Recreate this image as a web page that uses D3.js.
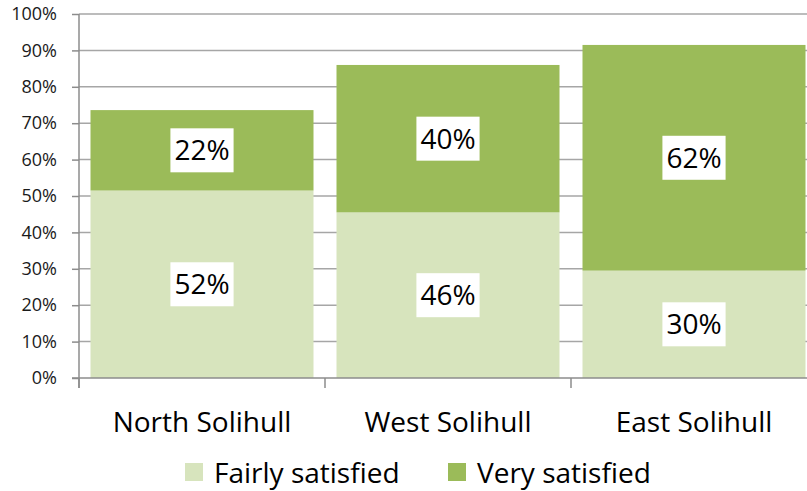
<!DOCTYPE html>
<html>
<head>
<meta charset="utf-8">
<script src="https://cdn.jsdelivr.net/npm/d3@7"></script>
<style>
  body { margin: 0; background: #fff; }
  svg { display: block; font-family: 'Open Sans', 'Liberation Sans', sans-serif; }
</style>
</head>
<body>
<div id="chart"></div>
<script>
const categories = ['North Solihull', 'West Solihull', 'East Solihull'];
const fairly = [51.5, 45.5, 29.5];
const very = [22.1, 40.5, 62.0];
const fairlyLabels = ['52%', '46%', '30%'];
const veryLabels = ['22%', '40%', '62%'];
const yTicks = [0, 10, 20, 30, 40, 50, 60, 70, 80, 90, 100];
const seriesNames = ['Fairly satisfied', 'Very satisfied'];
const colors = ['#d7e4bd', '#9bbb59'];

const width = 807, height = 491;
const plotLeft = 79, plotRight = 817, plotTop = 14, plotBottom = 378;

const svg = d3.select('#chart').append('svg')
  .attr('width', width)
  .attr('height', height);

const x = d3.scaleBand()
  .domain(categories)
  .range([plotLeft, plotRight])
  .paddingInner(0.0935)
  .paddingOuter(0.0935 / 2);

const y = d3.scaleLinear()
  .domain([0, 100])
  .range([plotBottom, plotTop]);

// gridlines
svg.append('g')
  .selectAll('line')
  .data(yTicks.filter(d => d > 0))
  .enter().append('line')
  .attr('x1', plotLeft).attr('x2', plotRight)
  .attr('y1', d => y(d)).attr('y2', d => y(d))
  .attr('stroke', '#a6a6a6')
  .attr('stroke-width', 1.5);

// stacked data
const rows = categories.map((c, i) => ({ cat: c, fairly: fairly[i], very: very[i] }));
const stack = d3.stack().keys(['fairly', 'very'])(rows);

const labelSets = [fairlyLabels, veryLabels];

stack.forEach((layer, k) => {
  svg.append('g')
    .selectAll('rect')
    .data(layer)
    .enter().append('rect')
    .attr('x', d => x(d.data.cat))
    .attr('y', d => y(d[1]))
    .attr('width', x.bandwidth())
    .attr('height', d => y(d[0]) - y(d[1]))
    .attr('fill', colors[k]);
});

// value labels with white boxes
stack.forEach((layer, k) => {
  layer.forEach((d, i) => {
    const cx = x(d.data.cat) + x.bandwidth() / 2;
    const cy = (y(d[0]) + y(d[1])) / 2;
    const g = svg.append('g');
    const box = g.append('rect').attr('fill', '#fff');
    const t = g.append('text')
      .attr('x', cx)
      .attr('y', cy + 10)
      .attr('text-anchor', 'middle')
      .attr('font-size', '28px')
      .attr('fill', '#000')
      .text(labelSets[k][i]);
    const bb = t.node().getBBox();
    box.attr('x', cx - bb.width / 2 - 4)
      .attr('y', cy - 22)
      .attr('width', bb.width + 8)
      .attr('height', 44);
  });
});

// y axis
const yAxis = svg.append('g')
  .attr('transform', `translate(${plotLeft},0)`)
  .call(d3.axisLeft(y).tickValues(yTicks).tickFormat(d => d + '%').tickSize(7).tickPadding(15));
yAxis.selectAll('line').attr('stroke', '#8c8c8c').attr('stroke-width', 1.5);
yAxis.select('.domain').remove();
yAxis.selectAll('text')
  .attr('font-size', '18px')
  .attr('font-family', "'Open Sans', sans-serif")
  .attr('fill', '#1a1a1a');
svg.append('line')
  .attr('x1', plotLeft).attr('x2', plotLeft)
  .attr('y1', plotTop).attr('y2', plotBottom + 10)
  .attr('stroke', '#8c8c8c').attr('stroke-width', 1.5);

// x axis
svg.append('line')
  .attr('x1', plotLeft - 7).attr('x2', plotRight)
  .attr('y1', plotBottom).attr('y2', plotBottom)
  .attr('stroke', '#8c8c8c').attr('stroke-width', 1.5);
const bounds = categories.map(c => x(c) - x.step() * x.paddingInner() / 2).concat([plotRight]);
svg.append('g')
  .selectAll('line')
  .data(bounds)
  .enter().append('line')
  .attr('x1', d => d).attr('x2', d => d)
  .attr('y1', plotBottom).attr('y2', plotBottom + 10)
  .attr('stroke', '#8c8c8c').attr('stroke-width', 1.5);

svg.append('g')
  .selectAll('text')
  .data(categories)
  .enter().append('text')
  .attr('x', d => x(d) + x.bandwidth() / 2)
  .attr('y', 432)
  .attr('text-anchor', 'middle')
  .attr('font-size', '28px')
  .attr('fill', '#000')
  .text(d => d);

// legend
const legendX = [185, 448];
const legend = svg.append('g');
seriesNames.forEach((name, i) => {
  legend.append('rect')
    .attr('x', legendX[i]).attr('y', 463)
    .attr('width', 18).attr('height', 18)
    .attr('fill', colors[i]);
  legend.append('text')
    .attr('x', legendX[i] + 29)
    .attr('y', 483)
    .attr('font-size', '28px')
    .attr('fill', '#000')
    .text(name);
});
</script>
</body>
</html>
